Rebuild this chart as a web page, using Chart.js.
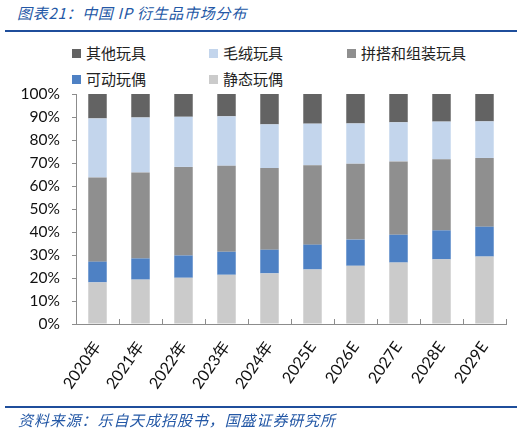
<!DOCTYPE html>
<html>
<head>
<meta charset="utf-8">
<script src="https://cdn.jsdelivr.net/npm/chart.js@4"></script>
<style>
  body { margin: 0; background: #fff; }
  #wrap { position: relative; width: 526px; height: 431px; overflow: hidden; }
  #chart { position: absolute; left: 0; top: 0; }
  .title { position: absolute; left: 17px; top: 2px; font: italic 15px "Noto Sans CJK SC"; color: #2458a6; white-space: nowrap; letter-spacing: 0.7px; }
  .rule { position: absolute; left: 5px; width: 512px; height: 2px; background: #1f4e9b; }
  .src { position: absolute; left: 18px; top: 409px; font: italic 15px "Noto Sans CJK SC"; color: #2458a6; white-space: nowrap; letter-spacing: 0.9px; }
  .leg { position: absolute; font: 15px "Noto Sans CJK SC"; color: #222; white-space: nowrap; line-height: 18px; }
  .leg i { position: absolute; left: -14px; top: 5px; width: 9px; height: 9px; }
</style>
</head>
<body>
<div id="wrap">
  <div class="title">图表21：中国 IP 衍生品市场分布</div>
  <div class="rule" style="top:30px"></div>
  <div id="legend"></div>
  <canvas id="chart" width="526" height="431"></canvas>
  <div class="rule" style="top:406px"></div>
  <div class="src">资料来源：乐自天成招股书，国盛证券研究所</div>
</div>
<script>
// categories
const years = ['2020年', '2021年', '2022年', '2023年', '2024年', '2025E', '2026E', '2027E', '2028E', '2029E'];

// share of market, % (bottom to top in the stack)
const staticFigures = [18.1, 19.3, 20.1, 21.4, 22.0, 23.7, 25.3, 26.7, 28.1, 29.3];
const actionFigures = [9.0, 9.2, 9.7, 10.0, 10.3, 10.8, 11.4, 12.1, 12.6, 13.0];
const buildingToys = [36.6, 37.4, 38.5, 37.4, 35.5, 34.5, 33.0, 31.9, 30.9, 29.9];
const plushToys = [25.7, 23.9, 21.8, 21.5, 19.0, 18.1, 17.5, 17.0, 16.4, 15.9];
const otherToys = [10.6, 10.2, 9.9, 9.7, 13.2, 12.9, 12.8, 12.3, 12.0, 11.9];

const yTicks = [0, 10, 20, 30, 40, 50, 60, 70, 80, 90, 100];

const datasets = [
    { label: '静态玩偶', data: staticFigures, backgroundColor: '#cbcbcb' },
    { label: '可动玩偶', data: actionFigures, backgroundColor: '#4e81c4' },
    { label: '拼搭和组装玩具', data: buildingToys, backgroundColor: '#8f8f8f' },
    { label: '毛绒玩具', data: plushToys, backgroundColor: '#c3d5ec' },
    { label: '其他玩具', data: otherToys, backgroundColor: '#636363' }
];

// legend laid out like the original: top of stack first, 3 per row
const legendSpots = [[86, 44], [223, 44], [361, 44], [86, 70], [223, 70]];
const legendBox = document.getElementById('legend');
datasets.slice().reverse().forEach((ds, i) => {
    const el = document.createElement('div');
    el.className = 'leg';
    el.style.left = legendSpots[i][0] + 'px';
    el.style.top = legendSpots[i][1] + 'px';
    el.innerHTML = '<i style="background:' + ds.backgroundColor + '"></i>' + ds.label;
    legendBox.appendChild(el);
});

// small inward tick marks between categories, like the source
const innerTicks = {
    id: 'innerTicks',
    afterDraw(chart) {
        const xs = chart.scales.x;
        const ctx = chart.ctx;
        const bottom = chart.chartArea.bottom;
        const step = xs.width / years.length;
        ctx.save();
        ctx.strokeStyle = '#8c8c8c';
        ctx.lineWidth = 1;
        for (let i = 0; i <= years.length; i++) {
            const px = Math.round(xs.left + i * step) + 0.5;
            ctx.beginPath();
            ctx.moveTo(px, bottom);
            ctx.lineTo(px, bottom - 5);
            ctx.stroke();
        }
        ctx.restore();
    }
};

new Chart(document.getElementById('chart'), {
    type: 'bar',
    data: {
        labels: years,
        datasets: datasets.map(ds => Object.assign({}, ds, {
            categoryPercentage: 1,
            barPercentage: 0.43,
            borderWidth: 0
        }))
    },
    options: {
        responsive: false,
        animation: false,
        layout: { padding: { top: 94, right: 20, left: 0, bottom: 0 } },
        plugins: {
            legend: { display: false },
            title: { display: false },
            tooltip: { enabled: false }
        },
        scales: {
            x: {
                stacked: true,
                afterFit: scale => { scale.height = 107; },
                grid: { drawOnChartArea: false, drawTicks: false },
                border: { color: '#8c8c8c' },
                ticks: {
                    autoSkip: false,
                    minRotation: 55,
                    maxRotation: 55,
                    padding: 14,
                    color: '#111',
                    font: { family: 'Lato, "Noto Sans CJK SC"', size: 16 }
                }
            },
            y: {
                stacked: true,
                min: 0,
                max: 100,
                afterFit: scale => { scale.width = 76; },
                afterBuildTicks: scale => { scale.ticks = yTicks.map(v => ({ value: v })); },
                grid: { drawOnChartArea: false, drawTicks: true, tickLength: 4, color: '#8c8c8c' },
                border: { color: '#8c8c8c' },
                ticks: {
                    padding: 12,
                    color: '#111',
                    font: { family: 'Lato', size: 15.5 },
                    callback: v => v + '%'
                }
            }
        }
    },
    plugins: [innerTicks]
});
</script>
</body>
</html>
